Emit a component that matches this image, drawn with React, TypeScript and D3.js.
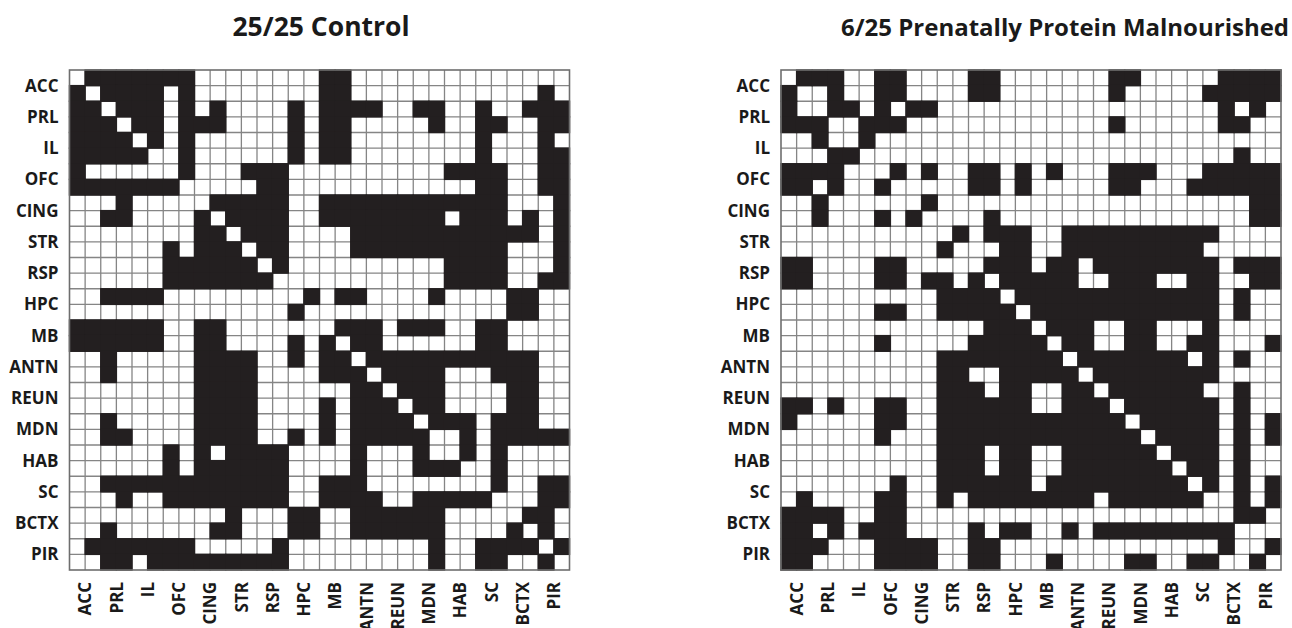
import React from 'react';
import * as d3 from 'd3';

// Brain regions; each region spans two rows/columns (left and right hemisphere)
const regions = ['ACC', 'PRL', 'IL', 'OFC', 'CING', 'STR', 'RSP', 'HPC', 'MB', 'ANTN', 'REUN', 'MDN', 'HAB', 'SC', 'BCTX', 'PIR'];

// Significant connections (1 = filled) for the control group, one string per row
const controlRows = [
  '01111111000000001100000000000000',
  '10111101000000001100000000000010',
  '11011101010000101111001100100111',
  '11101101110000101100000100110011',
  '11110101000000101100000000100010',
  '11111001000000101100000000100011',
  '10000001000111000000000011110011',
  '11111110000011000000000000110011',
  '00010000011111001111111111110001',
  '00110000101111001111111101110101',
  '00000000110111000011111111111101',
  '00000010111011000011111111110001',
  '00000011111101000000000011110001',
  '00000011111110000000000011110011',
  '00111100000000010110000100001100',
  '00000000000000100000000000001100',
  '11111100110000000111011100110000',
  '11111100110000101011000000110000',
  '00100000111100101101111111111100',
  '00100000111100001110111100011100',
  '00000000111100000011011100001100',
  '00000000111100001011101100001100',
  '00100000111100001011110111011100',
  '00110000111100101011111001011111',
  '00000010101111000010001001010000',
  '00000010111111000010001110010000',
  '00111111111111001110000000010011',
  '00010011111111001111001111100011',
  '00000000001000110011111100000110',
  '00100000011000110011111100001010',
  '01111111000001000000000100111101',
  '00110111111111000000000100110010',
];

// Significant connections for the prenatally protein malnourished group
const malnourishedRows = [
  '01110011000011000000011000001111',
  '10010011000011000000010000011111',
  '10011010110000000000000000001010',
  '11100111000000000000010000001100',
  '00100100000000000000000000000000',
  '00011000000000000000000000000100',
  '11110001010011010100011100011111',
  '11010010000011010000011000111111',
  '00100000010000000000000000000011',
  '00100010100001000000000000000011',
  '00000000000101110011111111110000',
  '00000000001000110011111111100000',
  '11000011000001110110111111110111',
  '11000011011010111110011100110011',
  '00000000001111011111111111110100',
  '00000011001111101111111111110100',
  '00000000000001110111001100010000',
  '00000010000011111011001100110001',
  '00000000001111111101111111010100',
  '00000000001100111110111111110000',
  '00000000001110110011011111100100',
  '11010011001111110011101111110100',
  '10000011001111111111110111110101',
  '00000010001111111111111011110101',
  '00000000001110110011111101110100',
  '00000000001110110011111110110100',
  '00000001001111110111111111010101',
  '01000011001011111111011111100101',
  '11110011000000000000000000000110',
  '11010111000010110010111111111000',
  '11100011110011000000000000001001',
  '11000011110011000100001100110010',
];

const panels = [
  { key: 'control', title: '25/25 Control', rows: controlRows, left: 69.5, titleX: 321, titleSize: 26.5 },
  { key: 'ppm', title: '6/25 Prenatally Protein Malnourished', rows: malnourishedRows, left: 781, titleX: 1065, titleSize: 24 },
];

const TOP = 70;
const SIZE = 500;
const FILL = '#231f20';
const GRID = '#858585';
const FONT = '"Open Sans", Lato, sans-serif';
const LABEL_SIZE = 17;

function Matrix({ rows, left, title, titleX, titleSize }: { rows: string[]; left: number; title: string; titleX: number; titleSize: number }) {
  const n = rows.length;
  const idx = d3.range(n);
  const x = d3.scaleBand<number>().domain(idx).range([left, left + SIZE]);
  const y = d3.scaleBand<number>().domain(idx).range([TOP, TOP + SIZE]);
  const bw = x.bandwidth();
  const bh = y.bandwidth();

  const cells = rows.flatMap((row, r) =>
    row.split('').map((v, c) => ({ r, c, on: v === '1' }))
  );

  const regionCenter = (i: number, scale: d3.ScaleBand<number>) =>
    (scale(2 * i)! + scale(2 * i + 1)! + scale.bandwidth()) / 2;

  return (
    <g>
      <text x={titleX} y={36} textAnchor="middle" fontFamily={FONT} fontWeight={700} fontSize={titleSize} fill="#1a1a1a">
        {title}
      </text>
      <rect x={left} y={TOP} width={SIZE} height={SIZE} fill="#fff" />
      {idx.slice(1).map((i) => (
        <line key={'v' + i} x1={x(i)} x2={x(i)} y1={TOP} y2={TOP + SIZE} stroke={GRID} strokeWidth={1.3} />
      ))}
      {idx.slice(1).map((i) => (
        <line key={'h' + i} y1={y(i)} y2={y(i)} x1={left} x2={left + SIZE} stroke={GRID} strokeWidth={1.3} />
      ))}
      {cells
        .filter((d) => d.on)
        .map((d) => (
          <rect
            key={d.r + '-' + d.c}
            x={x(d.c)! - 0.7}
            y={y(d.r)! - 0.7}
            width={bw + 1.4}
            height={bh + 1.4}
            fill={FILL}
          />
        ))}
      <rect x={left} y={TOP} width={SIZE} height={SIZE} fill="none" stroke="#6e6e6e" strokeWidth={1.6} />
      {regions.map((name, i) => (
        <text
          key={'yl' + name}
          x={left - 11}
          y={regionCenter(i, y)}
          dy="0.36em"
          textAnchor="end"
          fontFamily={FONT}
          fontWeight={700}
          fontSize={LABEL_SIZE}
          fill="#1a1a1a"
        >
          {name}
        </text>
      ))}
      {regions.map((name, i) => {
        const cx = regionCenter(i, x);
        const ty = TOP + SIZE + 12;
        return (
          <text
            key={'xl' + name}
            transform={`translate(${cx},${ty}) rotate(-90)`}
            dy="0.36em"
            textAnchor="end"
            fontFamily={FONT}
            fontWeight={700}
            fontSize={LABEL_SIZE}
            fill="#1a1a1a"
          >
            {name}
          </text>
        );
      })}
    </g>
  );
}

export default function App() {
  return (
    <svg
      width={1292}
      height={628}
      style={{ position: 'absolute', left: 0, top: 0, display: 'block', background: '#fff' }}
    >
      {panels.map((p) => (
        <Matrix key={p.key} rows={p.rows} left={p.left} title={p.title} titleX={p.titleX} titleSize={p.titleSize} />
      ))}
    </svg>
  );
}
